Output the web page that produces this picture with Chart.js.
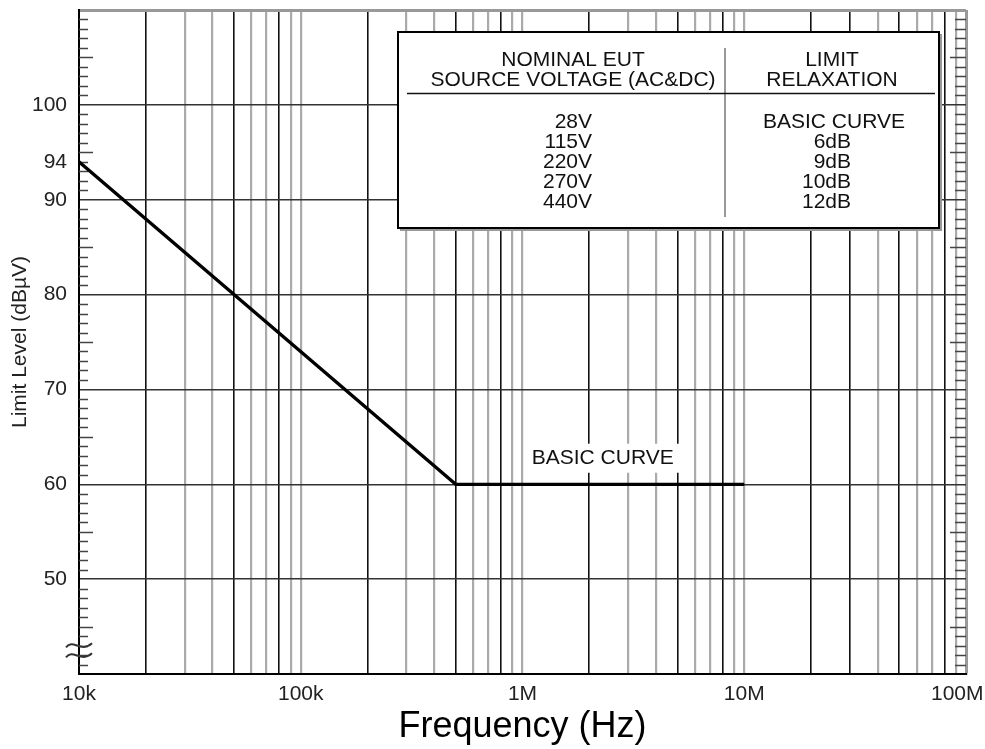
<!DOCTYPE html>
<html><head><meta charset="utf-8">
<script src="https://cdn.jsdelivr.net/npm/chart.js@4.4.0/dist/chart.umd.min.js"></script>
<style>html,body{margin:0;padding:0;background:#fff;}canvas{display:block;}</style>
</head><body>
<canvas id="c" width="985" height="749"></canvas>
<script>
// ---- data ----
const freqHz = [1e4, 5e5, 1e7];
const limitDbuV = [94, 60, 60];
const xDecades = [1e4, 1e5, 1e6, 1e7, 1e8];
const xDecadeLabels = ['10k', '100k', '1M', '10M', '100M'];
const xMinorMultipliers = [2, 3, 4, 5, 6, 7, 8, 9];
const xDarkMultipliers = [2, 5, 8];
const yTickValues = [40, 50, 60, 70, 80, 90, 94, 100, 110];
const yTickLabels = ['', '50', '60', '70', '80', '90', '94', '100', ''];
const headerLeft = ['NOMINAL EUT', 'SOURCE VOLTAGE (AC&DC)'];
const headerRight = ['LIMIT', 'RELAXATION'];
const voltages = ['28V', '115V', '220V', '270V', '440V'];
const relaxations = ['BASIC CURVE', '6dB', '9dB', '10dB', '12dB'];
const curveLabel = 'BASIC CURVE';
const curveLabelAt = { x: 2.3e6, y: 62.8 };
const breakMarkValue = 42.5;

const FONT = '"Liberation Sans", Arial, Helvetica, sans-serif';

const xTickValues = [];
xDecades.forEach((d, i) => {
  xTickValues.push(d);
  if (i < xDecades.length - 1) xMinorMultipliers.forEach(m => xTickValues.push(m * d));
});
function mult(v) {
  const e = Math.floor(Math.log10(v) + 1e-9);
  return Math.round(v / Math.pow(10, e));
}
function isDark(v) {
  return xDarkMultipliers.includes(mult(v)) || v === 3e7;
}

const decor = {
  id: 'decor',
  beforeDatasetsDraw(chart) {
    const { ctx, chartArea: a, scales: { y } } = chart;
    ctx.save();
    ctx.strokeStyle = '#444';
    ctx.lineWidth = 1.5;
    for (let v = 41; v < 110; v++) {
      if (v % 10 === 0) continue;
      const py = Math.round(y.getPixelForValue(v)) + 0.5;
      const lenL = v % 5 === 0 ? 14 : 9;
      const lenR = v % 5 === 0 ? 16 : 11;
      ctx.beginPath();
      ctx.moveTo(a.left, py); ctx.lineTo(a.left + lenL, py);
      ctx.moveTo(a.right - lenR, py); ctx.lineTo(a.right, py);
      ctx.stroke();
    }
    ctx.restore();
  },
  afterDatasetsDraw(chart) {
    const { ctx, chartArea: a, scales: { x, y } } = chart;
    ctx.save();
    ctx.font = '21px ' + FONT;
    const px = x.getPixelForValue(curveLabelAt.x);
    const py = y.getPixelForValue(curveLabelAt.y);
    const w = ctx.measureText(curveLabel).width;
    ctx.fillStyle = '#fff';
    ctx.fillRect(px - w / 2 - 6, py - 14, w + 12, 29);
    ctx.fillStyle = '#111';
    ctx.textAlign = 'center';
    ctx.textBaseline = 'middle';
    ctx.fillText(curveLabel, px, py);
    // axis break mark: two wavy strokes across the left axis
    const by = y.getPixelForValue(breakMarkValue);
    ctx.strokeStyle = '#333';
    ctx.lineWidth = 2;
    [-5, 5].forEach(dy => {
      const yy = by + dy;
      ctx.beginPath();
      ctx.moveTo(a.left - 13, yy + 2);
      ctx.bezierCurveTo(a.left - 6, yy - 7, a.left + 2, yy + 8, a.left + 13, yy - 2);
      ctx.stroke();
    });
    ctx.restore();
  },
  afterDraw(chart) {
    const { ctx } = chart;
    const L = 398, T = 32, R = 939, B = 228;
    ctx.save();
    ctx.fillStyle = '#fff';
    ctx.fillRect(L, T, R - L, B - T);
    ctx.strokeStyle = '#999';
    ctx.lineWidth = 2;
    ctx.beginPath();
    ctx.moveTo(R + 2, T + 2); ctx.lineTo(R + 2, B + 2); ctx.lineTo(L + 2, B + 2);
    ctx.stroke();
    ctx.strokeStyle = '#000';
    ctx.lineWidth = 2;
    ctx.strokeRect(L, T, R - L, B - T);
    // divider
    ctx.strokeStyle = '#999';
    ctx.lineWidth = 2;
    ctx.beginPath(); ctx.moveTo(725, 48); ctx.lineTo(725, 217); ctx.stroke();
    // header rule
    ctx.strokeStyle = '#111';
    ctx.lineWidth = 1.5;
    ctx.beginPath(); ctx.moveTo(407, 93.5); ctx.lineTo(935, 93.5); ctx.stroke();
    ctx.fillStyle = '#111';
    ctx.font = '21px ' + FONT;
    ctx.textBaseline = 'middle';
    ctx.textAlign = 'center';
    headerLeft.forEach((t, i) => ctx.fillText(t, 573, 60 + i * 20));
    headerRight.forEach((t, i) => ctx.fillText(t, 832, 60 + i * 20));
    const rowY = [122, 142, 162, 182, 202];
    ctx.textAlign = 'right';
    voltages.forEach((t, i) => ctx.fillText(t, 592, rowY[i]));
    relaxations.forEach((t, i) => {
      if (i === 0) { ctx.textAlign = 'center'; ctx.fillText(t, 834, rowY[i]); ctx.textAlign = 'right'; }
      else ctx.fillText(t, 851, rowY[i]);
    });
    ctx.restore();
  }
};

new Chart(document.getElementById('c'), {
  type: 'line',
  data: {
    datasets: [{
      data: freqHz.map((f, i) => ({ x: f, y: limitDbuV[i] })),
      borderColor: '#000',
      borderWidth: 3.2,
      pointRadius: 0,
      tension: 0,
      fill: false
    }]
  },
  options: {
    responsive: false,
    animation: false,
    devicePixelRatio: 1,
    layout: { padding: { left: 0, right: 19, top: 10, bottom: 0 } },
    plugins: { legend: { display: false }, tooltip: { enabled: false } },
    scales: {
      x: {
        type: 'logarithmic',
        min: 1e4, max: 1e8,
        afterBuildTicks: s => { s.ticks = xTickValues.map(v => ({ value: v })); },
        afterFit: s => { s.height = 75; s.paddingLeft = 0; s.paddingRight = 0; },
        ticks: {
          autoSkip: false, maxRotation: 0, minRotation: 0, padding: 8,
          color: '#222', font: { family: FONT, size: 21 },
          callback: v => {
            const i = xDecades.indexOf(v);
            if (i < 0) return '';
            return xDecadeLabels[i] + (i === xDecades.length - 1 ? '   ' : '');
          }
        },
        grid: {
          drawTicks: false,
          color: c => {
            const v = c.tick ? c.tick.value : 0;
            if (v === 1e4) return 'rgba(0,0,0,0)';
            if (v === 1e8) return '#999';
            return isDark(v) ? '#111' : '#aaa';
          },
          lineWidth: c => {
            const v = c.tick ? c.tick.value : 0;
            if (v === 1e8) return 3;
            return isDark(v) ? 1.6 : 2.2;
          }
        },
        border: { display: true, color: '#000', width: 2 },
        title: {
          display: true, text: 'Frequency (Hz)', color: '#000',
          font: { family: FONT, size: 36 }, padding: { top: 0, bottom: 0 }
        }
      },
      y: {
        type: 'linear',
        min: 40, max: 110,
        afterBuildTicks: s => { s.ticks = yTickValues.map(v => ({ value: v })); },
        afterFit: s => { s.width = 79; s.paddingTop = 0; s.paddingBottom = 0; },
        ticks: {
          autoSkip: false, padding: 12, color: '#222',
          font: { family: FONT, size: 21 },
          callback: v => { const i = yTickValues.indexOf(v); return i < 0 ? '' : yTickLabels[i]; }
        },
        grid: {
          drawTicks: false,
          color: c => {
            const v = c.tick ? c.tick.value : 0;
            if (v === 94 || v === 40) return 'rgba(0,0,0,0)';
            if (v === 110) return '#999';
            return '#333';
          },
          lineWidth: c => {
            const v = c.tick ? c.tick.value : 0;
            return v === 110 ? 3 : 1.5;
          }
        },
        border: { display: true, color: '#000', width: 2 },
        title: {
          display: true, text: 'Limit Level (dB\u00B5V)', color: '#222',
          font: { family: FONT, size: 21 }, padding: { top: 8, bottom: 0 }
        }
      }
    }
  },
  plugins: [decor]
});
</script>
</body></html>
